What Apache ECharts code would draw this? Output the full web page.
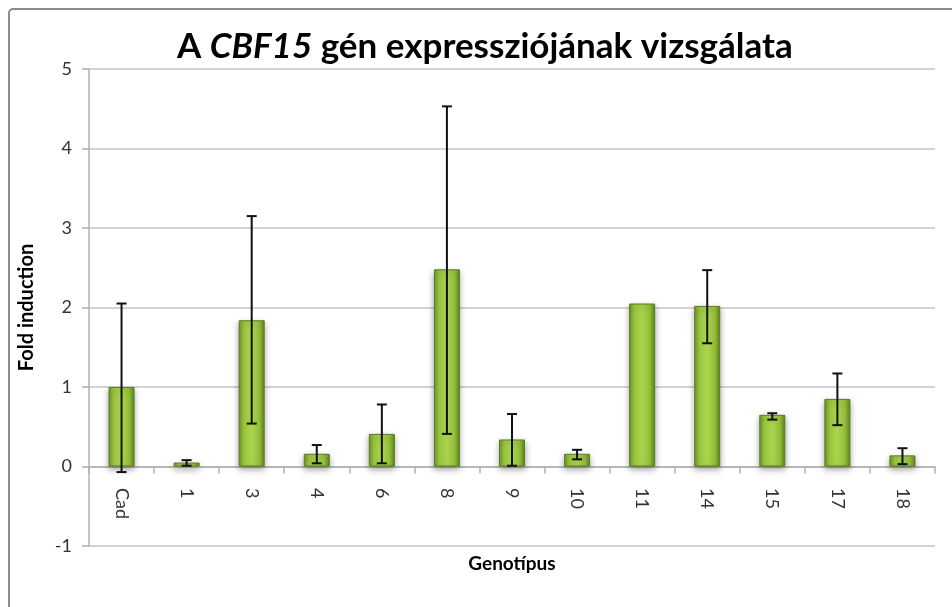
<!DOCTYPE html>
<html>
<head>
<meta charset="utf-8">
<script src="https://cdn.jsdelivr.net/npm/echarts@6/dist/echarts.min.js"></script>
<style>
  html, body { margin: 0; padding: 0; background: #fff; }
  #chart { width: 952px; height: 607px; }
</style>
</head>
<body>
<div id="chart"></div>
<script>
const genotypes = ["Cad", "1", "3", "4", "6", "8", "9", "10", "11", "14", "15", "17", "18"];
const foldInduction = [1.0, 0.05, 1.84, 0.16, 0.41, 2.48, 0.34, 0.16, 2.05, 2.02, 0.65, 0.85, 0.14];
const errLow = [-0.07, 0.01, 0.54, 0.04, 0.04, 0.41, 0.01, 0.09, null, 1.55, 0.59, 0.52, 0.03];
const errHigh = [2.05, 0.08, 3.15, 0.27, 0.78, 4.53, 0.66, 0.21, null, 2.47, 0.67, 1.17, 0.23];

const font = "Lato, 'Liberation Sans', sans-serif";

const chart = echarts.init(document.getElementById("chart"));

const errData = genotypes
  .map((g, i) => [i, errLow[i], errHigh[i]])
  .filter((d) => d[1] !== null);

// the category labels sit under the zero line, not under the -1 gridline
const zeroToBottom = 80;

const option = {
  animation: false,
  backgroundColor: "#fff",
  graphic: [
    {
      type: "rect",
      shape: { x: 9, y: 9, width: 980, height: 640, r: 4 },
      style: { fill: "none", stroke: "#8c8c8c", lineWidth: 2 },
      silent: true,
    },
  ],
  title: {
    text: "A {i|CBF15} gén expressziójának vizsgálata",
    left: 172,
    top: 24,
    textStyle: {
      fontFamily: font,
      fontSize: 35,
      fontWeight: "bold",
      color: "#000",
      rich: {
        i: { fontFamily: font, fontSize: 35, fontWeight: "bold", fontStyle: "italic", color: "#000" },
      },
    },
  },
  grid: { left: 89, right: 17, top: 69, bottom: 61, outerBoundsMode: "none" },
  xAxis: {
    type: "category",
    data: genotypes,
    name: "Genotípus",
    nameLocation: "middle",
    nameGap: 8,
    nameMoveOverlap: false,
    nameTextStyle: { fontFamily: font, fontSize: 19, fontWeight: "bold", color: "#000" },
    axisLine: { onZero: true, lineStyle: { color: "#b0b0b0", width: 1.5 } },
    axisTick: { show: true, length: 7, lineStyle: { color: "#b0b0b0", width: 1.5 } },
    axisLabel: {
      rotate: -90,
      margin: 22 - zeroToBottom,
      fontFamily: font,
      fontSize: 18,
      color: "#333",
    },
  },
  yAxis: {
    type: "value",
    min: -1,
    max: 5,
    interval: 1,
    name: "Fold induction",
    nameLocation: "middle",
    nameGap: 52,
    nameTextStyle: { fontFamily: font, fontSize: 20, fontWeight: "bold", color: "#000" },
    axisLine: { show: true, lineStyle: { color: "#b0b0b0", width: 1.5 } },
    axisTick: { show: true, length: 7, lineStyle: { color: "#b0b0b0", width: 1.5 } },
    axisLabel: { fontFamily: font, fontSize: 18, color: "#333", margin: 17 },
    splitLine: { lineStyle: { color: "#c4c4c4", width: 1.5 } },
  },
  series: [
    {
      type: "bar",
      data: foldInduction,
      barWidth: 26,
      itemStyle: {
        color: new echarts.graphic.LinearGradient(0, 0, 1, 0, [
          { offset: 0, color: "#6e9528" },
          { offset: 0.2, color: "#9ac63f" },
          { offset: 0.5, color: "#aad34e" },
          { offset: 0.8, color: "#94bf3a" },
          { offset: 1, color: "#5f8420" },
        ]),
        borderColor: "#5a7d1e",
        borderWidth: 1,
        shadowColor: "rgba(0,0,0,0.35)",
        shadowBlur: 6,
        shadowOffsetY: 3,
      },
    },
    {
      type: "custom",
      data: errData,
      z: 10,
      encode: { x: 0, y: [1, 2] },
      renderItem: (params, api) => {
        const x = api.value(0);
        const lo = api.coord([x, api.value(1)]);
        const hi = api.coord([x, api.value(2)]);
        const half = 5;
        const style = { stroke: "#111", lineWidth: 2 };
        return {
          type: "group",
          children: [
            { type: "line", shape: { x1: lo[0], y1: lo[1], x2: hi[0], y2: hi[1] }, style },
            { type: "line", shape: { x1: lo[0] - half, y1: lo[1], x2: lo[0] + half, y2: lo[1] }, style },
            { type: "line", shape: { x1: hi[0] - half, y1: hi[1], x2: hi[0] + half, y2: hi[1] }, style },
          ],
        };
      },
    },
  ],
};

chart.setOption(option);
</script>
</body>
</html>
